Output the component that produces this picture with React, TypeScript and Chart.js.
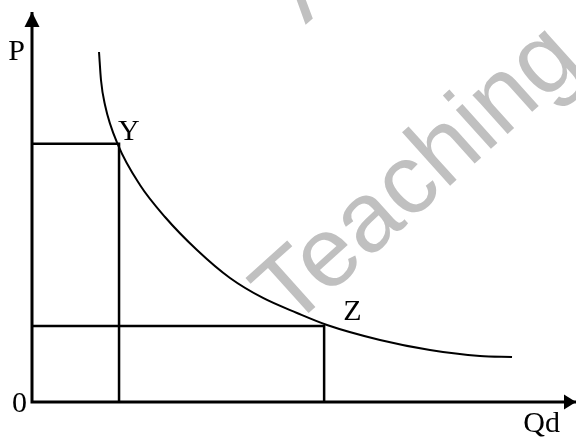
import { useEffect, useRef } from "react";
import { Chart, registerables } from "chart.js";

Chart.register(...registerables);

// Demand curve (quantity, price on 0..100 scales)
const curveQ = [12.32, 12.68, 13.42, 15.81, 19.85, 24.45, 30.33, 36.4, 42.46, 48.71, 54.23, 63.97, 73.16, 82.35, 88.24];
const curveP = [89.74, 82.56, 76.15, 65.9, 55.64, 47.44, 38.97, 31.79, 26.67, 22.82, 19.74, 15.9, 13.33, 11.79, 11.54];

// Marked points on the curve
const pointNames = ["Y", "Z"];
const pointQ = [16.0, 53.7];
const pointP = [66.2, 19.5];

const axisMin = 0;
const axisMax = 100;
const xAxisLabel = "Qd";
const yAxisLabel = "P";
const originLabel = "0";
const watermarkMain = "Teaching o";
const watermarkUpper = "A";

const labelFont = "30px 'Liberation Serif', 'Times New Roman', serif";

const decorPlugin = {
  id: "decor",
  beforeDatasetsDraw(chart: any) {
    const { ctx } = chart;
    ctx.save();
    ctx.fillStyle = "#c0c0c0";
    ctx.font = "100px 'Liberation Sans', Arial, sans-serif";
    const wT = ctx.measureText("T").width;
    const wg = ctx.measureText("g").width;
    const wAll = ctx.measureText("Teaching").width;
    const span = wAll - wT / 2 - wg / 2;
    const size = (100 * 339) / span;
    ctx.font = `${size}px 'Liberation Sans', Arial, sans-serif`;
    const halfT = (wT / 2) * (size / 100);
    const ang = (42 * Math.PI) / 180;
    const ox = 312 - halfT * Math.cos(ang);
    const oy = 310 + halfT * Math.sin(ang);
    ctx.textBaseline = "alphabetic";
    ctx.textAlign = "left";
    ctx.translate(ox, oy);
    ctx.rotate(-ang);
    ctx.fillText(watermarkMain, 0, 0);
    ctx.fillText(watermarkUpper, 2.18 * size, -2.18 * size);
    ctx.restore();
  },
  afterDatasetsDraw(chart: any) {
    const { ctx } = chart;
    const xs = chart.scales.x;
    const ys = chart.scales.y;
    const x0 = xs.getPixelForValue(axisMin);
    const y0 = ys.getPixelForValue(axisMin);
    const xTop = xs.getPixelForValue(axisMax);
    const yTop = ys.getPixelForValue(axisMax);
    ctx.save();
    ctx.fillStyle = "#000";
    // y arrow
    ctx.beginPath();
    ctx.moveTo(x0, yTop);
    ctx.lineTo(x0 - 7.5, yTop + 15);
    ctx.lineTo(x0 + 7.5, yTop + 15);
    ctx.closePath();
    ctx.fill();
    // x arrow
    ctx.beginPath();
    ctx.moveTo(xTop, y0);
    ctx.lineTo(xTop - 12, y0 - 7.5);
    ctx.lineTo(xTop - 12, y0 + 7.5);
    ctx.closePath();
    ctx.fill();

    ctx.font = labelFont;
    ctx.textBaseline = "alphabetic";
    ctx.textAlign = "right";
    ctx.fillText(yAxisLabel, x0 - 7, yTop + 48);
    ctx.fillText(originLabel, x0 - 5, y0 + 10);
    ctx.fillText(xAxisLabel, xTop - 16, y0 + 30);
    ctx.textAlign = "left";
    const offs = [
      [-1, -4],
      [19, -6],
    ];
    pointNames.forEach((n, i) => {
      const px = xs.getPixelForValue(pointQ[i]);
      const py = ys.getPixelForValue(pointP[i]);
      ctx.fillText(n, px + offs[i][0], py + offs[i][1]);
    });
    ctx.restore();
  },
};

export default function App() {
  const ref = useRef<HTMLCanvasElement | null>(null);
  useEffect(() => {
    if (!ref.current) return;
    const curve = curveQ.map((q, i) => ({ x: q, y: curveP[i] }));
    const guides = pointQ.map((q, i) => ({
      data: [
        { x: axisMin, y: pointP[i] },
        { x: q, y: pointP[i] },
        { x: q, y: axisMin },
      ],
      borderColor: "#000",
      borderWidth: 2.5,
      pointRadius: 0,
      showLine: true,
      tension: 0,
      clip: false as any,
    }));
    const chart = new Chart(ref.current, {
      type: "scatter",
      data: {
        datasets: [
          {
            data: curve,
            borderColor: "#000",
            borderWidth: 2,
            pointRadius: 0,
            showLine: true,
            cubicInterpolationMode: "monotone",
            clip: false as any,
          } as any,
          ...guides,
          {
            data: [
              { x: axisMin, y: axisMax },
              { x: axisMin, y: axisMin },
              { x: axisMax, y: axisMin },
            ],
            borderColor: "#000",
            borderWidth: 3,
            pointRadius: 0,
            showLine: true,
            tension: 0,
            clip: false as any,
          },
        ],
      },
      options: {
        responsive: false,
        animation: false,
        layout: { padding: { left: 32, right: 0, top: 12, bottom: 37 } },
        plugins: { legend: { display: false }, tooltip: { enabled: false } },
        scales: {
          x: { type: "linear", min: axisMin, max: axisMax, display: false },
          y: { type: "linear", min: axisMin, max: axisMax, display: false },
        },
      },
      plugins: [decorPlugin],
    });
    return () => chart.destroy();
  }, []);
  return (
    <div style={{ position: "fixed", left: 0, top: 0, width: 576, height: 439, background: "#fff" }}>
      <canvas ref={ref} width={576} height={439} />
    </div>
  );
}
